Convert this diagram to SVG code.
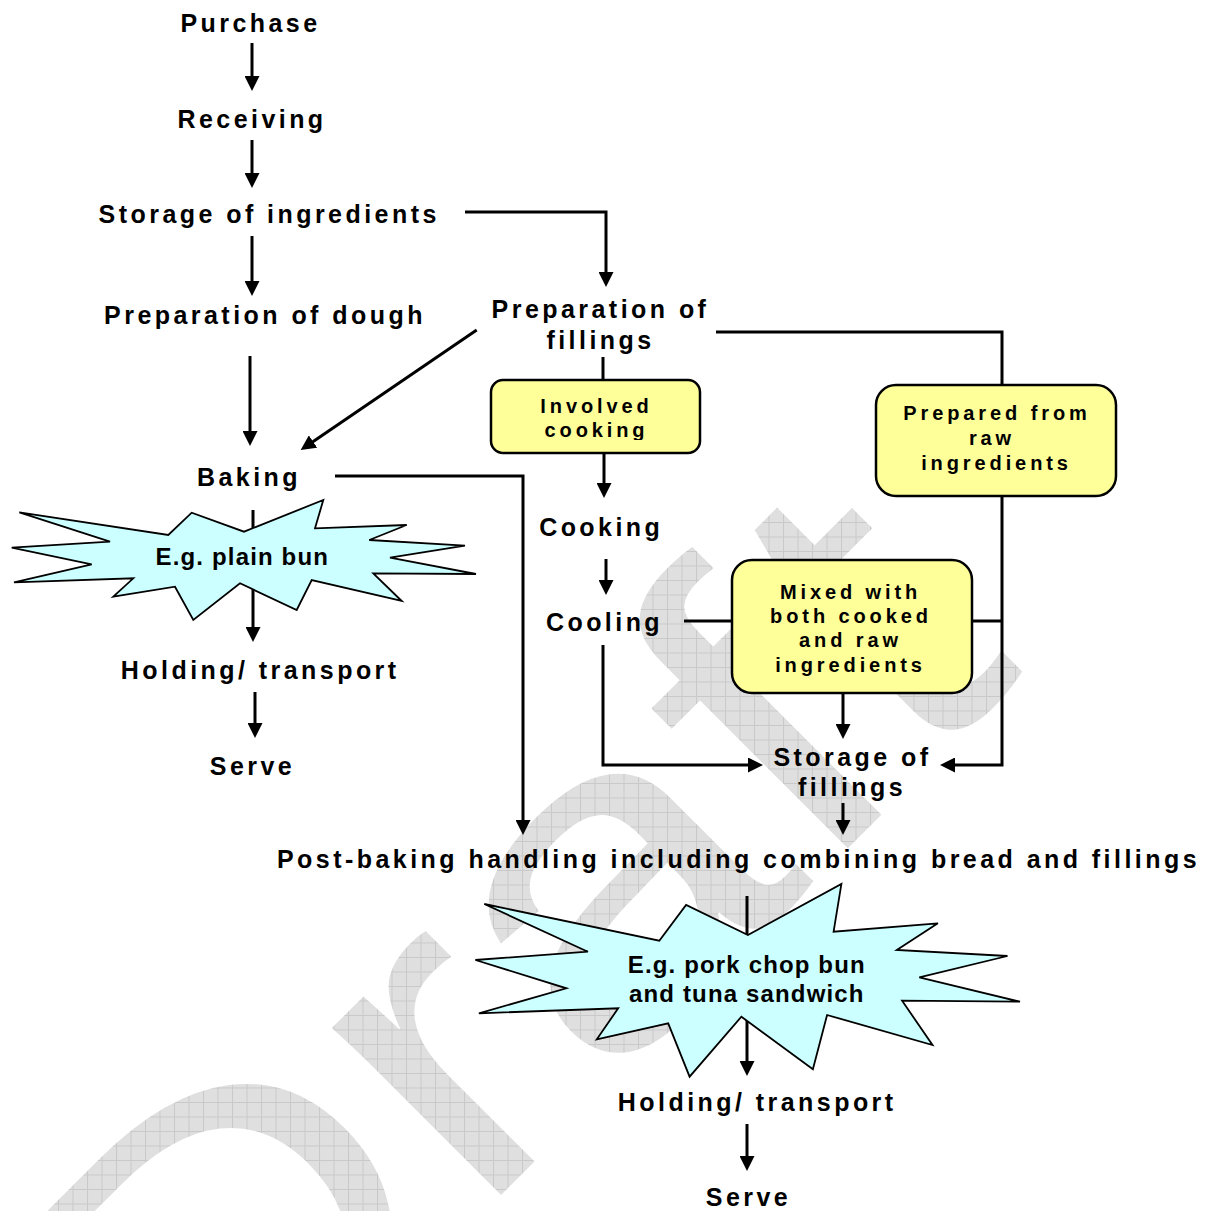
<svg xmlns="http://www.w3.org/2000/svg" width="1218" height="1211" viewBox="0 0 1218 1211">
<defs>
<style>
.t{font-family:"Liberation Sans",Arial,sans-serif;font-weight:bold;font-size:25px;letter-spacing:3.45px;text-anchor:middle;fill:#000}
.b{font-family:"Liberation Sans",Arial,sans-serif;font-weight:bold;font-size:20px;letter-spacing:3.9px;text-anchor:middle;fill:#000}
.s{font-family:"Liberation Sans",Arial,sans-serif;font-weight:bold;font-size:24px;letter-spacing:1.15px;text-anchor:middle;fill:#000}
.c{fill:none;stroke:#000;stroke-width:3}
.a{marker-end:url(#ah)}
.box{fill:#ffff99;stroke:#000;stroke-width:2.5}
.star{fill:#ccffff;stroke:#000;stroke-width:1.8;stroke-linejoin:miter}
</style>
<marker id="ah" markerUnits="userSpaceOnUse" markerWidth="15" markerHeight="15" refX="10" refY="7.5" orient="auto" viewBox="0 0 15 15"><path d="M0,0 L15,7.5 L0,15 z" fill="#000"/></marker>
<pattern id="grid" patternUnits="userSpaceOnUse" width="14.5" height="14.5"><rect width="14.5" height="14.5" fill="#dfdfdf"/><path d="M0,0.5 H14.5 M0.5,0 V14.5" stroke="#c9c9c9" stroke-width="1"/></pattern>
<clipPath id="wm"><text x="0" y="0" transform="translate(198.8,1497.3) rotate(-45) scale(1.2,1)" font-family="Liberation Sans" font-size="450">Draft</text></clipPath>
<clipPath id="ck"><rect x="480" y="370" width="230" height="70"/></clipPath>
</defs>
<rect width="1218" height="1211" fill="#fff"/>
<g id="watermark"><rect width="1218" height="1211" fill="url(#grid)" clip-path="url(#wm)"/></g>
<g id="connectors">
<path class="c a" d="M252,43 V86"/>
<path class="c a" d="M252,140 V183"/>
<path class="c a" d="M252,236 V291"/>
<path class="c a" d="M250,356 V441"/>
<path class="c a" d="M476.7,330 L304.8,447.2"/>
<path class="c a" d="M253,510 V637"/>
<path class="c a" d="M255,692 V733"/>
<path class="c a" d="M465,212 H606 V282"/>
<path class="c" d="M603,357 V380"/>
<path class="c a" d="M604,453 V493"/>
<path class="c a" d="M606,559 V590"/>
<path class="c" d="M716,332 H1002 V385"/>
<path class="c a" d="M1002,496 V765 H945"/>
<path class="c" d="M684,621 H732"/>
<path class="c" d="M972,621 H1002"/>
<path class="c a" d="M603,645 V765 H758"/>
<path class="c a" d="M843,692 V734"/>
<path class="c a" d="M843,803 V830"/>
<path class="c a" d="M335,476 H523 V830"/>
<path class="c a" d="M747,896 V1071"/>
<path class="c a" d="M747,1124 V1166"/>
</g>
<g id="purchase"><text class="t" x="250.5" y="31.5">Purchase</text></g>
<g id="receiving"><text class="t" x="252" y="128">Receiving</text></g>
<g id="storage-ingredients"><text class="t" x="269.2" y="223">Storage of ingredients</text></g>
<g id="prep-dough"><text class="t" x="265" y="324">Preparation of dough</text></g>
<g id="baking"><text class="t" x="249" y="485.5">Baking</text></g>
<g id="plain-bun"><polygon class="star" points="19.3,512.3 168.3,535 191.7,512.7 244,531.7 323.3,500 315,528.3 406.7,525 369.3,540 465,545.7 390,557.7 476,574 373.3,573.3 401.7,601 311.7,580 296.7,610 240,583.3 193.3,620 175,586.7 113.3,596.7 133.3,578.3 14,582.3 91.7,564.3 11.7,547.7 110,541.7"/><text class="s" x="242.3" y="564.5">E.g. plain bun</text></g>
<g id="holding-left"><text class="t" x="260.2" y="678.5">Holding/ transport</text></g>
<g id="serve-left"><text class="t" x="252.5" y="774.5">Serve</text></g>
<g id="prep-fillings"><text class="t" x="600.5" y="317.5">Preparation of</text><text class="t" x="600.5" y="349">fillings</text></g>
<g id="involved-cooking"><rect class="box" x="491" y="380" width="209" height="73" rx="12"/><g clip-path="url(#ck)"><text class="b" x="596.5" y="413">Involved</text><text class="b" x="596.5" y="437">cooking</text></g></g>
<g id="prepared-raw"><rect class="box" x="876" y="385" width="240" height="111" rx="20"/><text class="b" x="997" y="419.5">Prepared from</text><text class="b" x="992" y="445">raw</text><text class="b" x="996.5" y="470">ingredients</text></g>
<g id="cooking"><text class="t" x="601.2" y="536">Cooking</text></g>
<g id="cooling"><text class="t" x="604.5" y="631">Cooling</text></g>
<g id="mixed"><rect class="box" x="732" y="560" width="240" height="133" rx="20"/><text class="b" x="850.5" y="599">Mixed with</text><text class="b" x="851" y="623">both cooked</text><text class="b" x="850.5" y="647">and raw</text><text class="b" x="850.5" y="672">ingredients</text></g>
<g id="storage-fillings"><text class="t" x="852.5" y="765.5">Storage of</text><text class="t" x="852" y="796">fillings</text></g>
<g id="post-baking"><text class="t" x="738.5" y="868">Post-baking handling including combining bread and fillings</text></g>
<g id="pork-chop"><polygon class="star" points="484.3,904 659.3,940.7 686.1,905 747.9,935 841.4,884 833.6,931.7 937.9,923.3 896.8,950 1007.5,956 919.3,977.3 1020,1001.7 902.1,1000.7 932.5,1045 827.1,1015 812.9,1069.3 741.4,1016.7 689.6,1076.7 668.2,1023.3 596.8,1039.3 618.2,1008.3 478.9,1013.3 566.4,988.3 475.4,960 587.9,951.7"/><text class="s" x="746.8" y="972.5">E.g. pork chop bun</text><text class="s" x="746.8" y="1002">and tuna sandwich</text></g>
<g id="holding-right"><text class="t" x="757.2" y="1111">Holding/ transport</text></g>
<g id="serve-right"><text class="t" x="748.5" y="1206">Serve</text></g>
</svg>
